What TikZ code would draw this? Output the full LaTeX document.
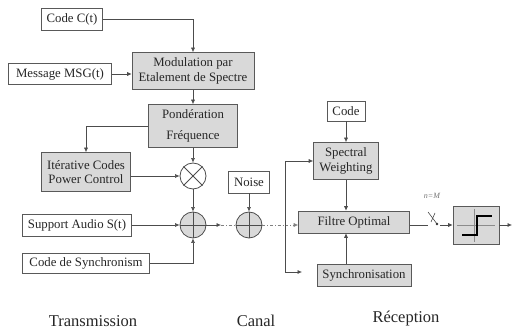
\documentclass[tikz,border=0pt]{standalone}
\usepackage{fontspec}
\setmainfont{Liberation Serif}
\usetikzlibrary{arrows.meta}

\begin{document}
\begin{tikzpicture}
[x=1pt, y=-1pt, >={Latex[length=4.5pt,width=4pt]},
 every node/.style={font=\fontsize{12.8}{14.5}\selectfont, inner sep=1pt, anchor=center, text=black!85},
 wbox/.style={draw=black!65, fill=white, line width=0.6pt},
 gbox/.style={draw=black!65, fill=black!15, line width=0.6pt, align=center},
 op/.style={circle, draw=black!70, line width=0.8pt, minimum size=26pt, inner sep=0pt},
 link/.style={black!70, line width=0.6pt},
 chan/.style={black!50, line width=0.6pt, dash dot},
 part/.style={font=\fontsize{16.5}{18}\selectfont}]
\useasboundingbox (0,0) rectangle (512,331);

% Transmission side
\node[wbox, minimum width=61pt, minimum height=22pt] (codeC) at (72,19) {Code C(t)};
\node[gbox, minimum width=122pt, minimum height=37pt] (mod) at (193,71) {Modulation par\\Etalement de Spectre};
\node[wbox, minimum width=103pt, minimum height=21pt] (msg) at (60,74) {Message MSG(t)};
\node[gbox, minimum width=89pt, minimum height=43pt] (pond) at (193,126) {Pondération\\[7pt]Fréquence};
\node[gbox, minimum width=89pt, minimum height=39pt] (iter) at (86,172) {Itérative Codes\\Power Control};
\node[op] (mult) at (193,176) {};
\node[op, fill=black!15] (sum1) at (193,225) {};
\node[wbox, minimum width=109pt, minimum height=22pt] (audio) at (77,225) {Support Audio S(t)};
\node[wbox, minimum width=127pt, minimum height=20pt] (syncode) at (86,263) {Code de Synchronism};

% Canal
\node[wbox, minimum width=41pt, minimum height=22pt] (noise) at (249,182) {Noise};
\node[op, fill=black!15] (sum2) at (249,225) {};

% Reception side
\node[wbox, minimum width=38pt, minimum height=20pt] (code2) at (346,111) {Code};
\node[gbox, minimum width=65pt, minimum height=37pt] (spec) at (346,161) {Spectral\\Weighting};
\node[gbox, minimum width=111pt, minimum height=22pt] (filtre) at (354,222) {Filtre Optimal};
\node[gbox, minimum width=94pt, minimum height=22pt] (syncr) at (364,275) {Synchronisation};
\node[gbox, minimum width=46pt, minimum height=38pt] (dec) at (476,225) {};
\node[font=\fontsize{8}{9}\selectfont\itshape, text=black!55] (lblM) at (432,196) {n=M};

\coordinate (a1) at (221,225);
\coordinate (br) at (285,225);
\coordinate (s1) at (302,272);
\coordinate (sw) at (428,225);
\coordinate (sw2) at (440,225);
\coordinate (out) at (512,225);

% operator symbols
\draw[link, line width=0.8pt] (mult.45) -- (mult.225) (mult.135) -- (mult.315);
\draw[link, line width=0.8pt] (sum1.north) -- (sum1.south) (sum1.east) -- (sum1.west);
\draw[link, line width=0.8pt] (sum2.north) -- (sum2.south) (sum2.east) -- (sum2.west);

% threshold inside decision box
\draw[black!45, line width=0.8pt] (457,225) -- (495,225) (474,209) -- (474,242);
\draw[black, line width=1.5pt] (462,235) -- (477,235) -- (477,216) -- (492,216);

% connections
\draw[link,->] (codeC.east) -| (mod.north);
\draw[link,->] (msg.east) -- (msg.east -| mod.west);
\draw[link,->] (mod.south) -- (pond.north);
\draw[link,->] (pond.west) -| (iter.north);
\draw[link,->] (pond.south) -- (mult.north);
\draw[link,->] (iter.east |- mult) -- (mult.west);
\draw[link,->] (mult.south) -- (sum1.north);
\draw[link,->] (audio.east) -- (sum1.west);
\draw[link,->] (syncode.east) -| (sum1.south);
\draw[link,->] (sum1.east) -- (a1);
\draw[chan] (a1) -- (sum2.west);
\draw[link,->] (noise.south) -- (sum2.north);
\draw[chan] (sum2.east) -- (br);
\draw[chan,->] (br) -- (br -| filtre.west);
\draw[link,->] (br) |- (spec.west);
\draw[link,->] (br) |- (s1);
\draw[link,->] (code2.south) -- (spec.north);
\draw[link,->] (spec.south) -- (filtre.north -| spec);
\draw[link,->] (syncr.north -| spec) -- (filtre.south -| spec);
\draw[link] (filtre.east |- sw) -- (sw);
\draw[link] (428,212) -- (437,224);
\draw[link] (431,222) -- (435,213);
\fill[black!80] (437,224) circle (1.4pt);
\draw[link,->] (sw2) -- (sw2 -| dec.west);
\draw[link,->] (dec.east) -- (out);

% labels
\node[part] (ltx) at (93,321) {Transmission};
\node[part] (lch) at (256,321) {Canal};
\node[part] (lrx) at (406,319) {Réception};
\end{tikzpicture}
\end{document}
